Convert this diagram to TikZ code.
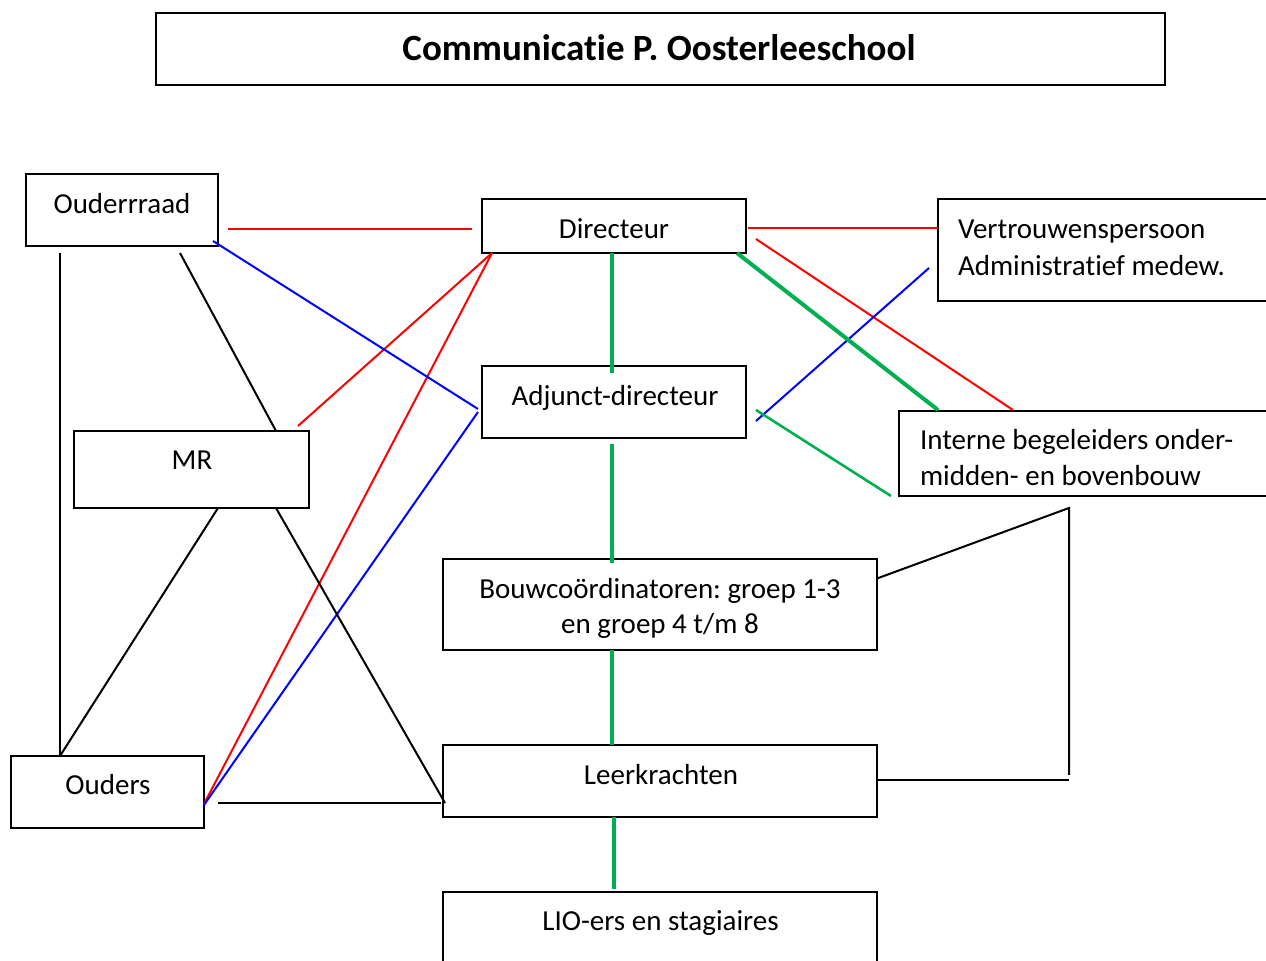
\documentclass[tikz,border=0pt]{standalone}
\usepackage{fontspec}
\setmainfont[Ligatures=NoCommon]{Carlito}
\usetikzlibrary{calc}
\definecolor{ogreen}{RGB}{0,176,80}
\definecolor{ored}{RGB}{255,0,0}
\definecolor{oblue}{RGB}{0,0,255}
\frenchspacing
\begin{document}
\begin{tikzpicture}[x=0.5pt,y=-0.5pt,
  box/.style={draw=black, line width=1pt, inner sep=0pt, outer sep=0pt, rectangle},
  lbl/.style={inner sep=0pt, outer sep=0pt, font=\fontsize{14.5}{17}\selectfont},
  ttl/.style={inner sep=0pt, outer sep=0pt, font=\fontsize{18.5}{22}\selectfont\bfseries},
  redline/.style={draw=ored, line width=1pt},
  blueline/.style={draw=oblue, line width=1pt},
  greenline/.style={draw=ogreen, line width=1.6pt},
  blackline/.style={draw=black, line width=1pt}
]
\useasboundingbox (0,0) rectangle (1266,961);
\clip (0,0) rectangle (1266,961);
\fill[white] (0,0) rectangle (1266,961);

% boxes
\node[box, minimum width=504.5pt, minimum height=36pt] (title) at (660.5,49) {};
\node[box, minimum width=96pt, minimum height=36pt] (oud) at (122,210) {};
\node[box, minimum width=132pt, minimum height=27pt] (dir) at (614,226) {};
\node[box, minimum width=176pt, minimum height=51pt] (ver) at (1114,250) {};
\node[box, minimum width=132pt, minimum height=36pt] (adj) at (614,402) {};
\node[box, minimum width=117.5pt, minimum height=38.5pt] (mr) at (191.5,469.5) {};
\node[box, minimum width=195.5pt, minimum height=42.5pt] (int) at (1094.5,453.5) {};
\node[box, minimum width=217pt, minimum height=45.5pt] (bouw) at (660,604.5) {};
\node[box, minimum width=217pt, minimum height=36pt] (leer) at (660,781) {};
\node[box, minimum width=96.5pt, minimum height=36pt] (ouders) at (107.5,792) {};
\node[box, minimum width=217pt, minimum height=54pt] (lio) at (660,946) {};

% texts
\node[ttl, anchor=base] (t-title) at (659,61) {Communicatie P. Oosterleeschool};
\node[lbl, anchor=base] (t-oud) at (122,213.5) {Ouderrraad};
\node[lbl, anchor=base] (t-dir) at (614,238.5) {Directeur};
\node[lbl, anchor=base west] (t-ver1) at (958,238.5) {Vertrouwenspersoon};
\node[lbl, anchor=base west] (t-ver2) at (958,276) {Administratief medew.};
\node[lbl, anchor=base] (t-adj) at (615,405.5) {Adjunct-directeur};
\node[lbl, anchor=base] (t-mr) at (192,470) {MR};
\node[lbl, anchor=base west] (t-int1) at (920,449.5) {Interne begeleiders onder-};
\node[lbl, anchor=base west] (t-int2) at (920,485.5) {midden- en bovenbouw};
\node[lbl, anchor=base] (t-bouw1) at (660,598.5) {Bouwcoördinatoren: groep 1-3};
\node[lbl, anchor=base] (t-bouw2) at (660,633.5) {en groep 4 t/m 8};
\node[lbl, anchor=base] (t-leer) at (661,784.5) {Leerkrachten};
\node[lbl, anchor=base] (t-ouders) at (108,794.5) {Ouders};
\node[lbl, anchor=base] (t-lio) at (660.5,931) {LIO-ers en stagiaires};

% helper coordinates
\coordinate (k1) at (1069,508);
\coordinate (k2) at (1069,775);
\coordinate (k3) at (1069,780);

% red connectors
\draw[redline] ($(oud.east)+(10,19)$) -- ($(dir.west)+(-10,3)$);
\draw[redline] ($(mr.north east)+(-11,-5)$) -- ($(dir.south west)+(10,0)$);
\draw[redline] ($(ouders.east)+(0,12)$) -- ($(dir.south west)+(10,0)$);
\draw[redline] ($(dir.east)+(2,2)$) -- ($(ver.west)+(0,-22)$);
\draw[redline] ($(dir.east)+(10,13)$) -- ($(int.north west)+(114,-1)$);

% blue connectors
\draw[blueline] ($(oud.south east)+(-5,-5)$) -- ($(adj.west)+(-4,7)$);
\draw[blueline] ($(ouders.east)+(0,13)$) -- ($(adj.west)+(-4,10)$);
\draw[blueline] ($(adj.east)+(10,19)$) -- ($(ver.west)+(-9,18)$);

% black connectors
\draw[blackline] ($(oud.south west)+(34,7)$) -- ($(ouders.north west)+(49,0)$);
\draw[blackline] ($(oud.south east)+(-38,7)$) -- ($(mr.north west)+(202,0)$);
\draw[blackline] ($(mr.south west)+(144,0)$) -- ($(ouders.north west)+(49,0)$);
\draw[blackline] ($(mr.south west)+(202,0)$) -- ($(leer.west)+(2,22)$);
\draw[blackline] ($(ouders.east)+(14,11)$) -- ($(leer.west)+(-2,22)$);
\draw[blackline] ($(bouw.east)+(0,-26)$) -- (k1) -- (k2);
\draw[blackline] ($(leer.east)+(0,-1)$) -- (k3);

% green connectors
\draw[greenline] ($(dir.south)+(-2,0)$) -- ($(adj.north)+(-2,7)$);
\draw[greenline] ($(adj.south)+(-2,6)$) -- ($(bouw.north)+(-48,4)$);
\draw[greenline] ($(bouw.south)+(-48,0)$) -- ($(leer.north)+(-48,0)$);
\draw[greenline] ($(leer.south)+(-46,0)$) -- ($(lio.north)+(-46,-3)$);
\draw[greenline, line width=2pt] ($(dir.south east)+(-9,0)$) -- ($(int.north west)+(39,-1)$);
\draw[greenline, line width=1.3pt] ($(adj.east)+(10,8)$) -- ($(int.south west)+(-8,0)$);
\end{tikzpicture}
\end{document}
